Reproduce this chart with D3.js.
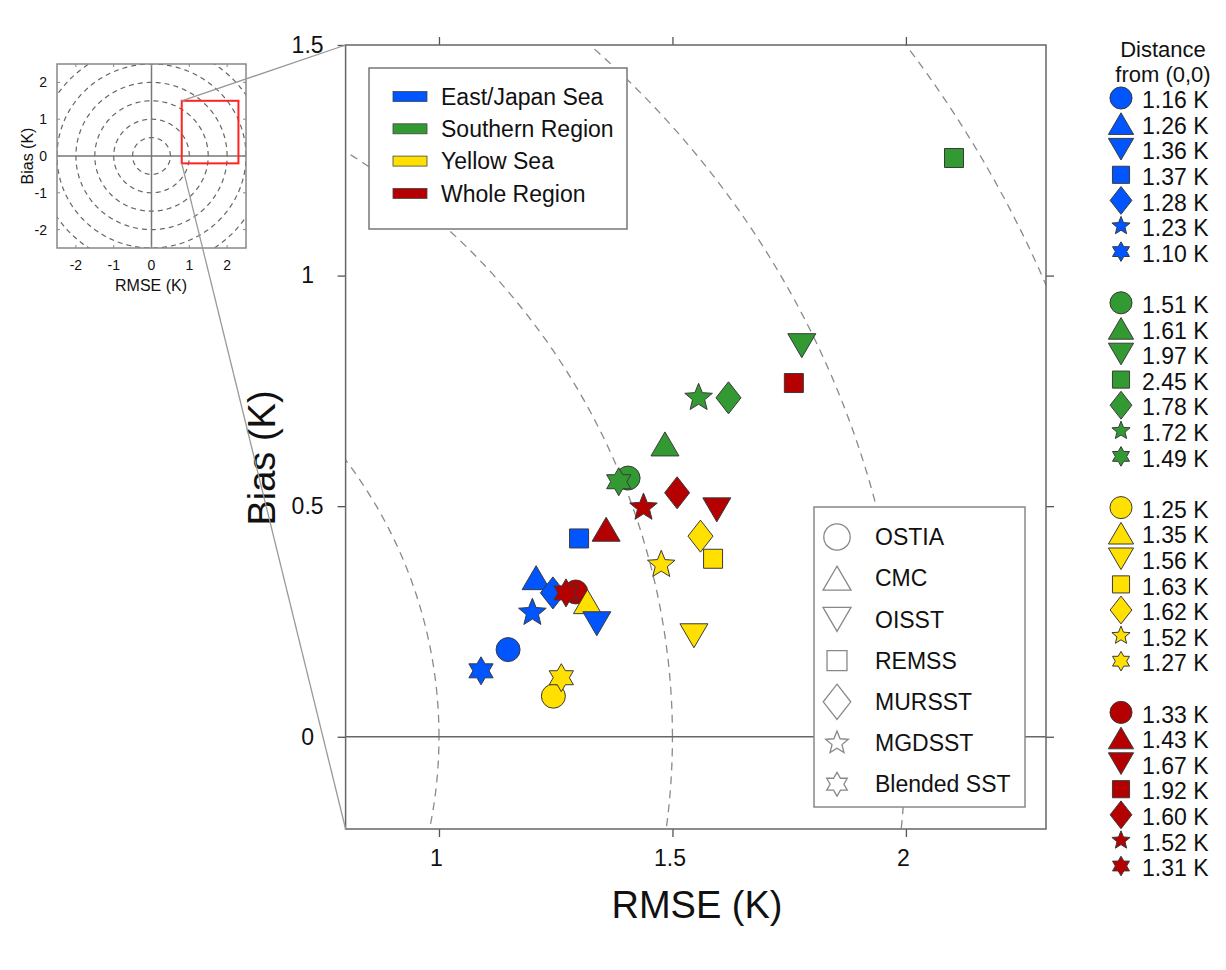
<!DOCTYPE html>
<html><head><meta charset="utf-8">
<script src="https://cdn.jsdelivr.net/npm/d3@7"></script>
<style>
body{margin:0;background:#fff}
svg{display:block}
text{font-family:"Liberation Sans",Arial,Helvetica,sans-serif;fill:#111}
</style>
</head><body>
<svg id="chart" width="1226" height="970"></svg>
<script>
// Regions, products and their styling
const regions = ["East/Japan Sea", "Southern Region", "Yellow Sea", "Whole Region"];
const regionColors = ["#0055ff", "#339933", "#ffe000", "#b40000"];
const products = ["OSTIA", "CMC", "OISST", "REMSS", "MURSST", "MGDSST", "Blended SST"];
const productShapes = ["circle", "triangleUp", "triangleDown", "square", "diamond", "star", "hexagram"];

// RMSE and bias (K) of each product, one pair of arrays per region
const rmseEastJapan = [1.148, 1.208, 1.338, 1.300, 1.244, 1.200, 1.090];
const biasEastJapan = [0.189, 0.345, 0.245, 0.430, 0.312, 0.269, 0.143];
const rmseSouthern  = [1.405, 1.484, 1.777, 2.103, 1.620, 1.556, 1.385];
const biasSouthern  = [0.561, 0.635, 0.848, 1.255, 0.735, 0.735, 0.553];
const rmseYellow    = [1.245, 1.318, 1.546, 1.587, 1.560, 1.476, 1.262];
const biasYellow    = [0.088, 0.293, 0.219, 0.386, 0.435, 0.373, 0.128];
const rmseWhole     = [1.293, 1.358, 1.595, 1.760, 1.510, 1.438, 1.272];
const biasWhole     = [0.314, 0.450, 0.492, 0.767, 0.529, 0.497, 0.312];

const rmseByRegion = [rmseEastJapan, rmseSouthern, rmseYellow, rmseWhole];
const biasByRegion = [biasEastJapan, biasSouthern, biasYellow, biasWhole];

// Axis ticks and reference circles
const xTicks = [1, 1.5, 2];
const yTicks = [0, 0.5, 1, 1.5];
const insetTicks = [-2, -1, 0, 1, 2];
const mainRadii = [0.5, 1, 1.5, 2, 2.5, 3];
const insetRadii = [0.5, 1, 1.5, 2, 2.5, 3];
const zoomBox = {x0: 0.8, x1: 2.3, y0: -0.2, y1: 1.5};

// ---------------------------------------------------------------
const svg = d3.select("#chart");
const fmt2 = d3.format(".2f");

// marker outlines; k scales the shape
function shapePath(type, k) {
  const p = d3.path();
  if (type === "circle") {
    p.arc(0, 0, 12 * k, 0, 2 * Math.PI);
  } else if (type === "triangleUp" || type === "triangleDown") {
    const w = 14 * k, h = 12 * k, s = type === "triangleUp" ? 1 : -1;
    p.moveTo(0, -h * s); p.lineTo(w, h * s); p.lineTo(-w, h * s); p.closePath();
  } else if (type === "square") {
    const a = 9.5 * k; p.rect(-a, -a, 2 * a, 2 * a);
  } else if (type === "diamond") {
    const w = 12.5 * k, h = 16 * k;
    p.moveTo(0, -h); p.lineTo(w, 0); p.lineTo(0, h); p.lineTo(-w, 0); p.closePath();
  } else if (type === "star" || type === "hexagram") {
    const n = type === "star" ? 5 : 6;
    const R = (type === "star" ? 14.5 : 14) * k;
    const r = type === "star" ? R * 0.44 : R / Math.sqrt(3);
    for (let i = 0; i < 2 * n; i++) {
      const a = -Math.PI / 2 + i * Math.PI / n;
      const rr = i % 2 === 0 ? R : r;
      const px = rr * Math.cos(a), py = rr * Math.sin(a);
      if (i === 0) p.moveTo(px, py); else p.lineTo(px, py);
    }
    p.closePath();
  }
  return p.toString();
}

// ---------------- main panel ----------------
const M = {left: 345.6, right: 1046, top: 45, bottom: 829};
const x = d3.scaleLinear().domain([zoomBox.x0, zoomBox.x1]).range([M.left, M.right]);
const y = d3.scaleLinear().domain([zoomBox.y0, zoomBox.y1]).range([M.bottom, M.top]);

svg.append("clipPath").attr("id", "plotClip")
  .append("rect").attr("x", M.left).attr("y", M.top)
  .attr("width", M.right - M.left).attr("height", M.bottom - M.top);

const angles = d3.range(0, 361, 1).map(d => d * Math.PI / 180);
function ringPath(sx, sy, r) {
  return d3.line().x(a => sx(r * Math.cos(a))).y(a => sy(r * Math.sin(a)))(angles);
}

const plot = svg.append("g");
plot.append("g").attr("clip-path", "url(#plotClip)")
  .selectAll("path").data(mainRadii).join("path")
  .attr("d", r => ringPath(x, y, r))
  .attr("fill", "none").attr("stroke", "#8a8a8a").attr("stroke-width", 1.3)
  .attr("stroke-dasharray", "8,6");

// zero-bias line
plot.append("line")
  .attr("x1", M.left).attr("x2", M.right).attr("y1", y(0)).attr("y2", y(0))
  .attr("stroke", "#666").attr("stroke-width", 1.3);

// axes
const axisStyle = g => {
  g.select(".domain").remove();
  g.selectAll(".tick line").attr("stroke", "#555").attr("stroke-width", 1.3);
};
svg.append("g").attr("transform", `translate(${M.left},0)`)
  .call(d3.axisLeft(y).tickValues(yTicks).tickSize(8).tickFormat(d3.format("")))
  .call(axisStyle)
  .call(g => g.selectAll(".tick text").attr("x", -38).attr("text-anchor", "middle")
    .attr("font-size", 23).attr("font-family", null).style("fill", "#111"));
svg.append("g").attr("transform", `translate(0,${M.bottom})`)
  .call(d3.axisBottom(x).tickValues(xTicks).tickSize(8).tickFormat(d3.format("")))
  .call(axisStyle)
  .call(g => g.selectAll(".tick text").attr("y", 21).attr("dx", -3)
    .attr("font-size", 23).attr("font-family", null).style("fill", "#111"));
svg.append("g").attr("transform", `translate(0,${M.top})`)
  .call(d3.axisTop(x).tickValues(xTicks).tickSize(8).tickFormat(""))
  .call(axisStyle);
svg.append("g").attr("transform", `translate(${M.right},0)`)
  .call(d3.axisRight(y).tickValues(yTicks.slice(0, 3)).tickSize(8).tickFormat(""))
  .call(axisStyle);

// frame
svg.append("rect").attr("x", M.left).attr("y", M.top)
  .attr("width", M.right - M.left).attr("height", M.bottom - M.top)
  .attr("fill", "none").attr("stroke", "#666").attr("stroke-width", 1.5);

// axis titles
svg.append("text").attr("x", 697).attr("y", 918).attr("text-anchor", "middle")
  .attr("font-size", 38).text("RMSE (K)");
svg.append("text").attr("transform", "translate(275,458) rotate(-90)")
  .attr("text-anchor", "middle").attr("font-size", 38).text("Bias (K)");

// markers: product by product, regions in order
const points = [];
products.forEach((p, pi) => regions.forEach((r, ri) => {
  points.push({region: ri, product: pi,
    rmse: rmseByRegion[ri][pi], bias: biasByRegion[ri][pi]});
}));
svg.append("g").selectAll("path").data(points).join("path")
  .attr("transform", d => `translate(${x(d.rmse)},${y(d.bias)})`)
  .attr("d", d => shapePath(productShapes[d.product], 1))
  .attr("fill", d => regionColors[d.region])
  .attr("stroke", "#3a3a3a").attr("stroke-width", 1);

// region legend
const regLeg = svg.append("g").attr("transform", "translate(369,68)");
regLeg.append("rect").attr("width", 258).attr("height", 161)
  .attr("fill", "#fff").attr("stroke", "#777").attr("stroke-width", 1.5);
regions.forEach((r, i) => {
  const cy = 28.5 + i * 32.3;
  regLeg.append("rect").attr("x", 24).attr("y", cy - 5).attr("width", 34).attr("height", 10)
    .attr("fill", regionColors[i]).attr("stroke", "#444").attr("stroke-width", 0.8);
  regLeg.append("text").attr("x", 72).attr("y", cy).attr("dy", "0.36em")
    .attr("font-size", 23).text(r);
});

// product legend (open symbols)
const legScale = [1.1, 1.0, 1.0, 1.05, 1.1, 0.82, 0.85];
const prodLeg = svg.append("g").attr("transform", "translate(814,507)");
prodLeg.append("rect").attr("width", 211).attr("height", 300)
  .attr("fill", "#fff").attr("stroke", "#888").attr("stroke-width", 1.5);
products.forEach((p, i) => {
  const cy = 30 + i * 41.2;
  prodLeg.append("path").attr("transform", `translate(23,${cy})`)
    .attr("d", shapePath(productShapes[i], legScale[i]))
    .attr("fill", "none").attr("stroke", "#888").attr("stroke-width", 1.3);
  prodLeg.append("text").attr("x", 61).attr("y", cy).attr("dy", "0.36em")
    .attr("font-size", 23).text(p);
});

// distance-from-origin legend
const distScale = [0.92, 0.9, 0.9, 0.9, 0.87, 0.66, 0.7];
const distLeg = svg.append("g");
distLeg.append("text").attr("x", 1163).attr("y", 49).attr("dy", "0.36em")
  .attr("text-anchor", "middle").attr("font-size", 22).text("Distance");
distLeg.append("text").attr("x", 1163).attr("y", 74).attr("dy", "0.36em")
  .attr("text-anchor", "middle").attr("font-size", 22).text("from (0,0)");
regions.forEach((r, ri) => {
  products.forEach((p, pi) => {
    const cy = 100 + (ri * 8 + pi) * 25.6;
    const dist = Math.hypot(rmseByRegion[ri][pi], biasByRegion[ri][pi]);
    distLeg.append("path").attr("transform", `translate(1121,${cy - 2})`)
      .attr("d", shapePath(productShapes[pi], distScale[pi]))
      .attr("fill", regionColors[ri]).attr("stroke", "#3a3a3a").attr("stroke-width", 1);
    distLeg.append("text").attr("x", 1142).attr("y", cy).attr("dy", "0.36em")
      .attr("font-size", 23).text(`${fmt2(dist)} K`);
  });
});

// ---------------- overview inset ----------------
const I = {left: 57, right: 246, top: 64, bottom: 248};
const ix = d3.scaleLinear().domain([-2.5, 2.5]).range([I.left, I.right]);
const iy = d3.scaleLinear().domain([-2.5, 2.5]).range([I.bottom, I.top]);

svg.append("clipPath").attr("id", "insetClip")
  .append("rect").attr("x", I.left).attr("y", I.top)
  .attr("width", I.right - I.left).attr("height", I.bottom - I.top);
const inset = svg.append("g");
inset.append("g").attr("clip-path", "url(#insetClip)")
  .selectAll("path").data(insetRadii).join("path")
  .attr("d", r => ringPath(ix, iy, r))
  .attr("fill", "none").attr("stroke", "#666").attr("stroke-width", 1.2)
  .attr("stroke-dasharray", "5,4");
inset.append("line").attr("x1", I.left).attr("x2", I.right).attr("y1", iy(0)).attr("y2", iy(0))
  .attr("stroke", "#777").attr("stroke-width", 1.5);
inset.append("line").attr("x1", ix(0)).attr("x2", ix(0)).attr("y1", I.top).attr("y2", I.bottom)
  .attr("stroke", "#777").attr("stroke-width", 1.5);
// inward ticks
insetTicks.forEach(t => {
  inset.append("line").attr("x1", ix(t)).attr("x2", ix(t)).attr("y1", I.top).attr("y2", I.top + 3).attr("stroke", "#888");
  inset.append("line").attr("x1", ix(t)).attr("x2", ix(t)).attr("y1", I.bottom).attr("y2", I.bottom - 3).attr("stroke", "#888");
  inset.append("line").attr("y1", iy(t)).attr("y2", iy(t)).attr("x1", I.left).attr("x2", I.left + 3).attr("stroke", "#888");
  inset.append("line").attr("y1", iy(t)).attr("y2", iy(t)).attr("x1", I.right).attr("x2", I.right - 3).attr("stroke", "#888");
});
inset.append("rect").attr("x", I.left).attr("y", I.top)
  .attr("width", I.right - I.left).attr("height", I.bottom - I.top)
  .attr("fill", "none").attr("stroke", "#888").attr("stroke-width", 1.5);
inset.selectAll(".xl").data(insetTicks).join("text")
  .attr("x", d => ix(d)).attr("y", 265).attr("dy", "0.36em")
  .attr("text-anchor", "middle").attr("font-size", 14).text(d => d);
inset.selectAll(".yl").data(insetTicks).join("text")
  .attr("x", 47).attr("y", d => iy(d)).attr("dy", "0.36em")
  .attr("text-anchor", "end").attr("font-size", 14).text(d => d);
inset.append("text").attr("x", 151).attr("y", 285).attr("dy", "0.36em")
  .attr("text-anchor", "middle").attr("font-size", 16).text("RMSE (K)");
inset.append("text").attr("transform", "translate(27,156) rotate(-90)").attr("dy", "0.36em")
  .attr("text-anchor", "middle").attr("font-size", 16).text("Bias (K)");

// highlighted region and its connectors to the main panel
inset.append("rect")
  .attr("x", ix(zoomBox.x0)).attr("y", iy(zoomBox.y1))
  .attr("width", ix(zoomBox.x1) - ix(zoomBox.x0)).attr("height", iy(zoomBox.y0) - iy(zoomBox.y1))
  .attr("fill", "none").attr("stroke", "#ff2222").attr("stroke-width", 2);
svg.append("line").attr("x1", ix(zoomBox.x0)).attr("y1", iy(zoomBox.y1))
  .attr("x2", x(zoomBox.x0)).attr("y2", y(zoomBox.y1))
  .attr("stroke", "#999").attr("stroke-width", 1.3);
svg.append("line").attr("x1", ix(zoomBox.x0)).attr("y1", iy(zoomBox.y0))
  .attr("x2", x(zoomBox.x0)).attr("y2", y(zoomBox.y0))
  .attr("stroke", "#999").attr("stroke-width", 1.3);
</script>
</body></html>
